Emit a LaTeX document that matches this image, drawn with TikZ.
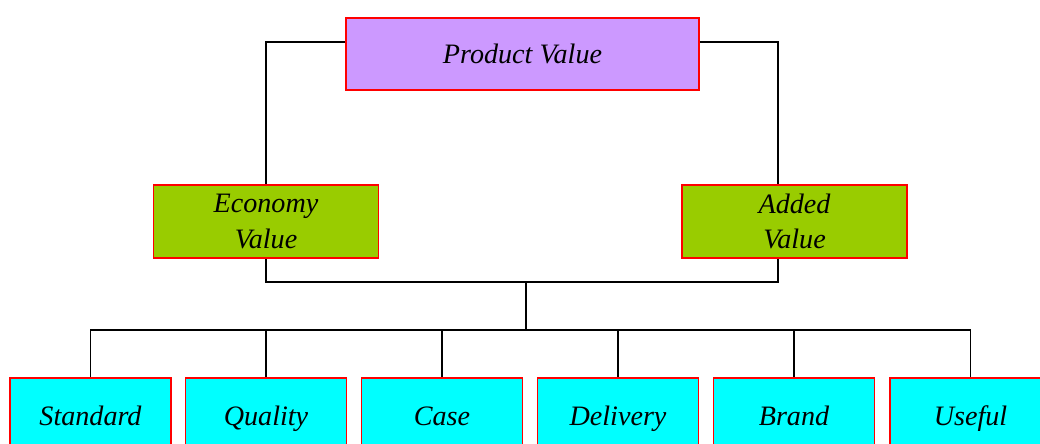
\documentclass[tikz,border=0pt]{standalone}
\usepackage{fontspec}
\setmainfont{Liberation Serif}
\usepackage{tikz}
\usetikzlibrary{calc}
\definecolor{boxpurple}{HTML}{CC99FF}
\definecolor{boxgreen}{HTML}{99CC00}
\definecolor{boxcyan}{HTML}{00FFFF}
\definecolor{boxred}{HTML}{FF0000}
\begin{document}
\begin{tikzpicture}[
    x=0.025cm, y=-0.025cm,
    box style/.style={rectangle, draw=boxred, line width=1.2pt, inner sep=0pt, align=center,
        font=\fontsize{20}{25}\selectfont\itshape},
    top style/.style={box style, fill=boxpurple, minimum width=8.825cm, minimum height=1.8cm},
    mid style/.style={box style, fill=boxgreen, minimum width=5.63cm, minimum height=1.82cm},
    leaf style/.style={box style, fill=boxcyan, minimum width=4.025cm, minimum height=1.8cm,
        text height=17pt, text depth=1pt},
    link/.style={draw=black, line width=0.9pt}
]
\useasboundingbox (0,0) rectangle (1040,443);
\node[top style] (pv) at (522.5,54) {Product Value};
\node[mid style] (ev) at (266,221.5) {Economy\\Value};
\node[mid style] (av) at (794.5,221.5) {Added\\Value};
\node[leaf style] (st) at (90.5,414) {Standard};
\node[leaf style] (qu) at (266,414) {Quality};
\node[leaf style] (ca) at (442,414) {Case};
\node[leaf style] (de) at (618,414) {Delivery};
\node[leaf style] (br) at (794,414) {Brand};
\node[leaf style] (us) at (970.5,414) {Useful};
% connectors
\coordinate (mid) at (526,282);
\coordinate (bus) at (526,330);
\draw[link] ([yshift=0.3cm]pv.west) -| (ev.north);
\draw[link] ([yshift=0.3cm]pv.east) -| ([xshift=-0.41cm]av.north);
\draw[link] (ev.south) |- (mid) -| ([xshift=-0.41cm]av.south);
\draw[link] (mid) -- (bus);
\foreach \n in {st,qu,ca,de,br,us}
    \draw[link] (bus) -| (\n.north);
\end{tikzpicture}
\end{document}
